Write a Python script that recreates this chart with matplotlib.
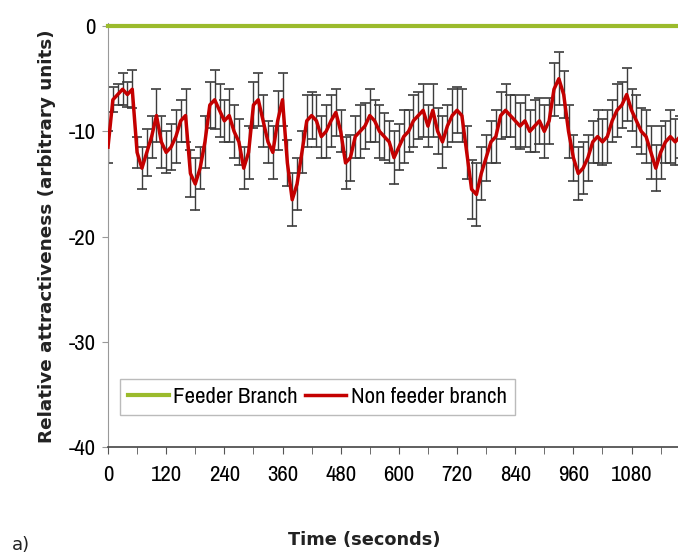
import numpy as np
import matplotlib
matplotlib.use('Agg')
import matplotlib.pyplot as plt
from matplotlib import font_manager as fm

# time axis, one reading every 10 seconds
time_s = np.arange(0, 1190, 10)

# non feeder branch
non_feeder = [-11.5, -7, -6.5, -6, -6.5, -6, -12, -13.5, -12, -10.5,
              -8.5, -11, -12, -11.5, -10.5, -9, -8.5, -14, -15, -13.5,
              -11, -7.5, -7, -8, -9, -8.5, -10, -11, -13.5, -12,
              -7.5, -7, -9, -11, -12, -9, -7, -13, -16.5, -15,
              -12, -9, -8.5, -9, -10.5, -10, -9, -8.2, -10, -13,
              -12.5, -10.5, -10, -9.5, -8.5, -9, -10, -10.5, -11, -12.5,
              -11.5, -10.5, -10, -9, -8.5, -8, -9.5, -8, -10, -11,
              -9.5, -8.5, -8, -8.5, -12, -15.5, -16, -14, -12.5, -11,
              -10.5, -8.5, -8, -8.5, -9, -9.5, -9, -10, -9.5, -9,
              -10, -9, -6, -5, -6.5, -10, -12.5, -14, -13.5, -12.5,
              -11, -10.5, -11, -10.5, -9, -8, -7.5, -6.5, -8, -9,
              -10, -10.5, -12, -13.5, -12, -11, -10.5, -11, -10.5]

non_feeder_err = [1.5, 1.2, 1.0, 1.5, 1.2, 1.8, 1.5, 2.0, 2.2, 2.0,
                  2.5, 2.5, 2.0, 2.2, 2.5, 2.0, 2.5, 2.2, 2.5, 2.0,
                  2.5, 2.2, 2.8, 2.5, 2.0, 2.5, 2.5, 2.2, 2.0, 2.5,
                  2.2, 2.5, 2.5, 2.0, 2.5, 2.8, 2.5, 2.2, 2.5, 2.5,
                  2.0, 2.5, 2.2, 2.5, 2.0, 2.5, 2.5, 2.2, 2.0, 2.5,
                  2.2, 2.0, 2.5, 2.2, 2.5, 2.0, 2.5, 2.2, 2.0, 2.5,
                  2.2, 2.5, 2.0, 2.5, 2.2, 2.5, 2.0, 2.5, 2.2, 2.5,
                  2.0, 2.5, 2.2, 2.5, 2.5, 2.8, 3.0, 2.5, 2.2, 2.0,
                  2.5, 2.2, 2.5, 2.0, 2.5, 2.2, 2.5, 2.0, 2.5, 2.2,
                  2.5, 2.2, 2.5, 2.5, 2.2, 2.5, 2.2, 2.5, 2.5, 2.2,
                  2.0, 2.5, 2.2, 2.5, 2.0, 2.5, 2.2, 2.5, 2.0, 2.5,
                  2.2, 2.5, 2.5, 2.2, 2.5, 2.0, 2.5, 2.2, 2.0]

# feeder branch is the reference, always 0
feeder = [0] * len(time_s)

x_ticks = [0, 120, 240, 360, 480, 600, 720, 840, 960, 1080]
y_ticks = [0, -10, -20, -30, -40]

# narrow font for ticks and legend, whatever is installed
names = sorted({f.name for f in fm.fontManager.ttflist})
narrow_name = next((n for n in names if 'Narrow' in n), None)
if narrow_name:
    small = fm.FontProperties(family=narrow_name, size=16.5)
else:
    small = fm.FontProperties(family='DejaVu Sans', stretch='condensed', size=13)

fig = plt.figure(figsize=(6.78, 5.55), dpi=100)
ax = fig.add_axes([0.1593, 0.1946, 0.858, 0.764])

ax.errorbar(time_s, non_feeder, yerr=non_feeder_err, fmt='none',
            ecolor='#3c3c3c', elinewidth=1, capsize=3.5, capthick=1.2, zorder=2)
ax.plot(time_s, feeder, color='#9bbb2c', lw=3, label='Feeder Branch',
        zorder=3, clip_on=False)
ax.plot(time_s, non_feeder, color='#c40000', lw=2.5, label='Non feeder branch',
        zorder=4)

ax.set_xlim(0, 1200)
ax.set_ylim(-40, 0.3)
ax.set_xticks(x_ticks)
ax.set_xticklabels([str(t) for t in x_ticks], fontproperties=small)
ax.set_xticks(range(60, 1200, 120), minor=True)
ax.set_yticks(y_ticks)
ax.set_yticklabels([str(v) for v in y_ticks], fontproperties=small)

ax.tick_params(axis='x', which='both', direction='out', length=5,
               color='#555555', pad=8)
ax.tick_params(axis='y', direction='out', length=4, color='#999999', pad=5)

for side in ['top', 'right']:
    ax.spines[side].set_visible(False)
ax.spines['left'].set_color('#999999')
ax.spines['bottom'].set_color('#444444')
ax.spines['bottom'].set_linewidth(1.2)

leg = ax.legend(loc='lower left', bbox_to_anchor=(0.02, 0.075), ncol=2,
                prop=small, fancybox=False,
                frameon=True, handlelength=1.8, handletextpad=0.2,
                columnspacing=0.3, borderpad=0.35, borderaxespad=0)
leg.get_frame().set_edgecolor('#aaaaaa')
leg.get_frame().set_linewidth(1)

fig.text(0.069, 0.575, 'Relative attractiveness (arbitrary units)',
         rotation=90, ha='center', va='center', fontsize=13.2,
         fontweight='bold', color='#222222')
fig.text(0.537, 0.027, 'Time (seconds)', ha='center', va='center',
         fontsize=12.8, fontweight='bold', color='#222222')
fig.text(0.018, 0.018, 'a)', ha='left', va='center', fontsize=13,
         color='#222222')

fig.savefig('out.png', dpi=100)
